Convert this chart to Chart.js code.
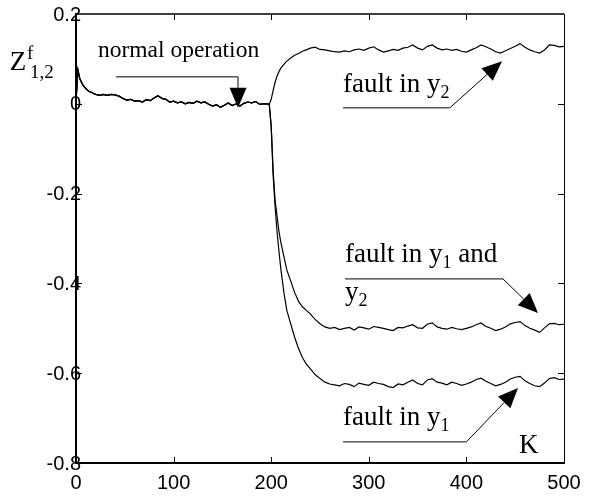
<!DOCTYPE html>
<html>
<head>
<meta charset="utf-8">
<script src="https://cdn.jsdelivr.net/npm/chart.js@4.4.0/dist/chart.umd.min.js"></script>
<style>
  html, body { margin: 0; padding: 0; background: #fff; }
  #wrap { width: 592px; height: 497px; position: relative; }
</style>
</head>
<body>
<div id="wrap"><canvas id="c" width="592" height="497"></canvas></div>
<script>
// ---- DATA ----
// shared normal-operation segment (k = 0 .. 198)
const kNormal = [0, 2, 4, 7, 10, 13, 16, 20, 25, 28, 32, 36, 40, 44, 48, 52, 56, 60, 64, 68, 72, 76, 80, 84, 88, 92, 96, 100,
  104, 108, 112, 116, 120, 124, 128, 132, 136, 140, 144, 148, 152, 156, 160, 164, 168, 172, 176, 180, 184, 188, 192, 196, 198];
const zNormal = [0.005, 0.075, 0.055, 0.042, 0.034, 0.028, 0.025, 0.021, 0.019, 0.021, 0.019, 0.021, 0.02, 0.017, 0.012, 0.008,
  0.01, 0.006, 0.007, 0.004, 0.009, 0.007, 0.013, 0.018, 0.012, 0.01, 0.004, 0.006, 0.002, 0.004, 0.0, 0.003, 0.001, 0.006,
  0.002, 0.004, -0.001, -0.005, -0.002, -0.008, -0.003, 0.002, -0.004, 0.0, -0.005, 0.001, 0.004, 0.002, 0.005, -0.001, 0.0, 0.0, -0.001];

// after the fault (k = 200 .. 500)
const kFault = [200, 202, 204, 206, 208, 210, 213, 216, 220, 224, 228, 232, 236,
  240, 245, 250, 255, 260, 265, 270, 275, 280, 285, 290, 295, 300, 305, 310, 315, 320, 325, 330, 335, 340, 345, 350, 355,
  360, 365, 370, 375, 380, 385, 390, 395, 400, 405, 410, 415, 420, 425, 430, 435, 440, 445, 450, 455, 460, 465, 470, 475,
  480, 485, 490, 495, 500];
const zFaultY2 = [0.01, 0.03, 0.048, 0.062, 0.072, 0.08, 0.088, 0.095, 0.102, 0.108, 0.112, 0.117, 0.12,
  0.124, 0.126, 0.121, 0.12, 0.118, 0.116, 0.115, 0.118, 0.116, 0.12, 0.122, 0.119, 0.124, 0.127, 0.12, 0.115, 0.118, 0.121,
  0.119, 0.124, 0.126, 0.131, 0.124, 0.12, 0.128, 0.131, 0.124, 0.12, 0.122, 0.119, 0.121, 0.117, 0.115, 0.12, 0.125, 0.131,
  0.127, 0.122, 0.116, 0.113, 0.118, 0.123, 0.128, 0.134, 0.126, 0.12, 0.116, 0.113, 0.12, 0.131, 0.13, 0.127, 0.128];
const zFaultY1Y2 = [-0.05, -0.15, -0.215, -0.25, -0.285, -0.31, -0.34, -0.37, -0.395, -0.42, -0.44, -0.452, -0.46,
  -0.468, -0.48, -0.49, -0.497, -0.5, -0.498, -0.503, -0.5, -0.498, -0.504, -0.497, -0.499, -0.502, -0.496, -0.498, -0.5,
  -0.503, -0.505, -0.498, -0.499, -0.495, -0.492, -0.499, -0.5, -0.491, -0.488, -0.497, -0.5, -0.502, -0.498, -0.501, -0.503,
  -0.5, -0.497, -0.492, -0.488, -0.496, -0.5, -0.505, -0.502, -0.497, -0.49, -0.487, -0.485, -0.494, -0.5, -0.504, -0.509,
  -0.499, -0.49, -0.489, -0.492, -0.491];
const zFaultY1 = [-0.05, -0.16, -0.23, -0.285, -0.33, -0.37, -0.42, -0.46, -0.49, -0.52, -0.545, -0.565, -0.58,
  -0.59, -0.603, -0.612, -0.62, -0.624, -0.626, -0.628, -0.623, -0.625, -0.63, -0.622, -0.625, -0.627, -0.62, -0.623, -0.625,
  -0.63, -0.632, -0.624, -0.626, -0.62, -0.615, -0.623, -0.626, -0.615, -0.612, -0.62, -0.622, -0.626, -0.62, -0.623, -0.627,
  -0.624, -0.62, -0.614, -0.611, -0.618, -0.623, -0.628, -0.625, -0.62, -0.613, -0.609, -0.607, -0.617, -0.623, -0.628, -0.63,
  -0.622, -0.612, -0.61, -0.614, -0.613];

const xTicks = [0, 100, 200, 300, 400, 500];
const yTicks = [0.2, 0, -0.2, -0.4, -0.6, -0.8];
const yTickLabels = ['0.2', '0', '-0.2', '-0.4', '-0.6', '-0.8'];

// annotation anchor points in data units (k, Z)
const notes = [
  { parts: [['normal operation', 23.5]], at: [22.5, 0.104],
    path: [[41, 0.060], [166, 0.060], [166, -0.009]] },
  { parts: [['fault in y', 27], ['2', 18, 6]], at: [273.6, 0.026],
    path: [[273.6, -0.009], [383, -0.009], [436.5, 0.095]] },
  { parts: [['fault in y', 27], ['1', 18, 6], [' and', 27]], at: [275.6, -0.352],
    path: [[275.6, -0.390], [437.5, -0.390], [473.4, -0.466]] },
  { parts: [['y', 27], ['2', 18, 6]], at: [275.6, -0.436], path: null },
  { parts: [['fault in y', 27], ['1', 18, 6]], at: [273.6, -0.715],
    path: [[273.6, -0.753], [400, -0.753], [452.9, -0.633]] },
  { parts: [['K', 27]], at: [454, -0.778], path: null }
];
const yTitleAt = [-68, 0.076];

// ---- BUILD ----
function series(vals) {
  const pts = [];
  kNormal.forEach((k, i) => pts.push({ x: k, y: zNormal[i] }));
  kFault.forEach((k, i) => pts.push({ x: k, y: vals[i] }));
  return pts;
}

const SERIF = '"Liberation Serif", "Times New Roman", serif';
const SANS = '"Liberation Sans", Arial, sans-serif';

function drawRich(ctx, parts, x, y) {
  let cx = x;
  parts.forEach(p => {
    ctx.font = p[1] + 'px ' + SERIF;
    ctx.fillText(p[0], cx, y + (p[2] || 0));
    cx += ctx.measureText(p[0]).width;
  });
}

const decor = {
  id: 'decor',
  afterDatasetsDraw(chart) {
    const ctx = chart.ctx, a = chart.chartArea;
    const xs = chart.scales.x, ys = chart.scales.y;
    ctx.save();
    ctx.strokeStyle = '#000';
    ctx.fillStyle = '#000';
    // top and right frame
    ctx.lineWidth = 1.5;
    ctx.beginPath(); ctx.moveTo(a.left, a.top); ctx.lineTo(a.right, a.top); ctx.stroke();
    ctx.lineWidth = 1;
    ctx.beginPath(); ctx.moveTo(a.right + 0.5, a.top); ctx.lineTo(a.right + 0.5, a.bottom); ctx.stroke();
    // inward ticks
    ctx.lineWidth = 1;
    xTicks.slice(1, -1).forEach(v => {
      const px = Math.round(xs.getPixelForValue(v)) + 0.5;
      ctx.beginPath(); ctx.moveTo(px, a.bottom); ctx.lineTo(px, a.bottom - 6); ctx.stroke();
      ctx.beginPath(); ctx.moveTo(px, a.top); ctx.lineTo(px, a.top + 6); ctx.stroke();
    });
    yTicks.slice(1, -1).forEach(v => {
      const py = Math.round(ys.getPixelForValue(v)) + 0.5;
      ctx.beginPath(); ctx.moveTo(a.left, py); ctx.lineTo(a.left + 6, py); ctx.stroke();
      ctx.beginPath(); ctx.moveTo(a.right, py); ctx.lineTo(a.right - 6, py); ctx.stroke();
    });
    // y tick labels (overlapping the axis line, as in the original)
    ctx.font = '20px ' + SANS;
    ctx.textAlign = 'right';
    ctx.textBaseline = 'middle';
    ys.ticks.forEach(t => {
      const i = yTicks.findIndex(v => Math.abs(v - t.value) < 1e-9);
      if (i < 0) return;
      ctx.fillText(yTickLabels[i], a.left + 5, ys.getPixelForValue(t.value) + 1);
    });
    // annotations
    ctx.textBaseline = 'alphabetic';
    ctx.textAlign = 'left';
    notes.forEach(n => {
      drawRich(ctx, n.parts, xs.getPixelForValue(n.at[0]), ys.getPixelForValue(n.at[1]));
      if (!n.path) return;
      const pts = n.path.map(p => [xs.getPixelForValue(p[0]), ys.getPixelForValue(p[1])]);
      const tip = pts[pts.length - 1], prev = pts[pts.length - 2];
      const dx = tip[0] - prev[0], dy = tip[1] - prev[1];
      const len = Math.hypot(dx, dy), ux = dx / len, uy = dy / len;
      const hl = 20, hw = 8.5;
      const bx = tip[0] - ux * hl, by = tip[1] - uy * hl;
      ctx.lineWidth = 1;
      ctx.beginPath();
      ctx.moveTo(pts[0][0], pts[0][1]);
      for (let i = 1; i < pts.length - 1; i++) ctx.lineTo(pts[i][0], pts[i][1]);
      ctx.lineTo(bx, by);
      ctx.stroke();
      ctx.beginPath();
      ctx.moveTo(tip[0], tip[1]);
      ctx.lineTo(bx - uy * hw, by + ux * hw);
      ctx.lineTo(bx + uy * hw, by - ux * hw);
      ctx.closePath();
      ctx.fill();
    });
    // y-axis title Z^f_{1,2}
    const tx = xs.getPixelForValue(yTitleAt[0]), ty = ys.getPixelForValue(yTitleAt[1]);
    ctx.font = '27px ' + SERIF;
    ctx.fillText('Z', tx, ty);
    const zw = ctx.measureText('Z').width;
    ctx.font = '19px ' + SERIF;
    ctx.fillText('f', tx + zw + 1, ty - 11);
    ctx.fillText('1,2', tx + zw + 4, ty + 8);
    ctx.restore();
  }
};

const line = (vals) => ({
  data: series(vals),
  borderColor: '#000',
  borderWidth: 1.2,
  pointRadius: 0,
  tension: 0,
  fill: false
});

new Chart(document.getElementById('c'), {
  type: 'line',
  data: { datasets: [line(zFaultY2), line(zFaultY1Y2), line(zFaultY1)] },
  options: {
    responsive: false,
    animation: false,
    events: [],
    layout: { padding: { left: 0, right: 28, top: 14, bottom: 0 } },
    plugins: { legend: { display: false }, tooltip: { enabled: false } },
    scales: {
      x: {
        type: 'linear', min: 0, max: 500,
        afterBuildTicks: s => { s.ticks = xTicks.map(v => ({ value: v })); },
        afterFit: s => { s.height = 34; },
        grid: { display: false },
        border: { display: true, color: '#000', width: 2 },
        ticks: { color: '#000', padding: 0, maxRotation: 0, font: { family: SANS, size: 20 } }
      },
      y: {
        type: 'linear', min: -0.8, max: 0.2,
        afterBuildTicks: s => { s.ticks = yTicks.map(v => ({ value: v })); },
        afterFit: s => { s.width = 76; },
        grid: { display: false },
        border: { display: true, color: '#000', width: 2 },
        ticks: { display: false }
      }
    }
  },
  plugins: [decor]
});
</script>
</body>
</html>
